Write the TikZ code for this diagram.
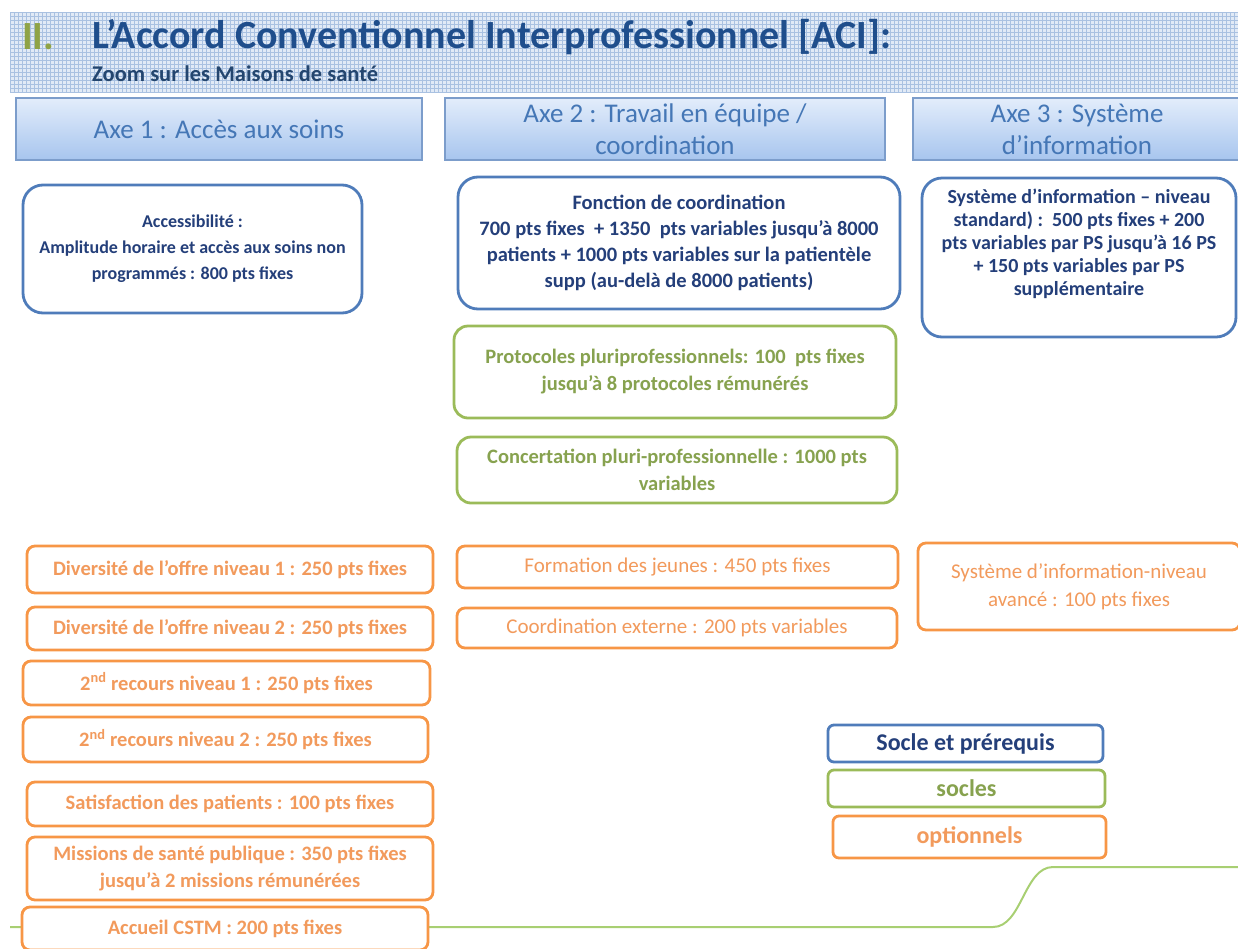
\documentclass[tikz,border=0pt]{standalone}
\usepackage{fontspec}
\setmainfont{Carlito}
\newcommand\fsz[2]{\fontsize{#1}{#2}\selectfont}
\definecolor{bandfill}{HTML}{E1EAF6}
\definecolor{bandgrid}{HTML}{A9C1E1}
\definecolor{titleblue}{HTML}{1F4E8C}
\definecolor{subblue}{HTML}{24466F}
\definecolor{olive}{HTML}{8FA346}
\definecolor{hdrtop}{HTML}{E3EDFB}
\definecolor{hdrbot}{HTML}{A7C5EE}
\definecolor{hdrline}{HTML}{7C9DCB}
\definecolor{hdrtext}{HTML}{4577B6}
\definecolor{bxblue}{HTML}{4F7CBA}
\definecolor{txblue}{HTML}{243F7A}
\definecolor{bxgreen}{HTML}{9BBB59}
\definecolor{txgreen}{HTML}{87A24F}
\definecolor{bxorange}{HTML}{F79646}
\definecolor{txorange}{HTML}{F29A5C}
\definecolor{linegreen}{HTML}{A8CF72}
\tikzset{
  hdr/.style={draw=hdrline, line width=1.2pt, top color=hdrtop, bottom color=hdrbot,
    text=hdrtext, font=\fsz{27}{32}, align=center, inner sep=0pt},
  card/.style={fill=white, line width=2.8pt, align=center, inner sep=0pt},
  bluecard/.style={card, draw=bxblue, rounded corners=20pt, text=txblue, font=\bfseries\fsz{20.5}{26}},
  greencard/.style={card, draw=bxgreen, rounded corners=14pt, text=txgreen, font=\bfseries\fsz{20.5}{27}},
  orangecard/.style={card, draw=bxorange, rounded corners=8pt, text=txorange, font=\bfseries\fsz{20.5}{27}},
  orangelite/.style={orangecard, font=\fsz{21}{28}},
  legendcard/.style={card, rounded corners=6pt, font=\bfseries\fsz{24}{28}},
}
\begin{document}
\begin{tikzpicture}[x=1pt,y=-1pt]
\useasboundingbox (0,0) rectangle (1238,948);

% title band with its fine grid
\fill[bandfill] (10,12) rectangle (1238,92);
\foreach \gx in {10,14,...,1238} \draw[bandgrid, line width=0.7pt] (\gx,12) -- (\gx,92);
\foreach \gy in {12,16,...,92} \draw[bandgrid, line width=0.7pt] (10,\gy) -- (1238,\gy);

\node[anchor=west, inner sep=0pt, text=olive, font=\bfseries\fsz{40}{44}] (roman) at (22,37) {II.};
\node[anchor=west, inner sep=0pt, text=titleblue, font=\bfseries\fsz{40}{44}] (title) at (92,37)
  {L’Accord Conventionnel Interprofessionnel [ACI]:};
\node[anchor=west, inner sep=0pt, text=subblue, font=\bfseries\fsz{22.5}{26}] (subtitle) at (92,74)
  {Zoom sur les Maisons de santé};

% column headers
\node[hdr, minimum width=406pt, minimum height=62pt] (axe1) at (219,129) {Axe 1 : Accès aux soins};
\node[hdr, minimum width=440pt, minimum height=62pt] (axe2) at (665,129) {Axe 2 : Travail en équipe /\\coordination};
\node[hdr, minimum width=328pt, minimum height=62pt] (axe3) at (1077,129) {Axe 3 : Système\\d’information};

% green baseline running along the bottom
\coordinate (gl0) at (10,927);
\coordinate (gl1) at (993,927);
\coordinate (gl2) at (1053,867);
\coordinate (gl3) at (1240,867);
\draw[linegreen, line width=2pt] (gl0) -- (gl1) .. controls (1022,927) and (1024,867) .. (gl2) -- (gl3);

% prerequisites (blue)
\node[bluecard, font=\bfseries\fsz{18}{26}, minimum width=339pt, minimum height=128pt] (acces) at (192.5,249)
  {Accessibilité :\\Amplitude horaire et accès aux soins non\\programmés : 800 pts fixes};
\node[bluecard, minimum width=442pt, minimum height=132pt] (fonction) at (679,243)
  {Fonction de coordination\\700 pts fixes~~+ 1350~~pts variables jusqu’à 8000\\patients + 1000 pts variables sur la patientèle\\supp (au-delà de 8000 patients)};
\node[bluecard, font=\bfseries\fsz{20}{23}, minimum width=314pt, minimum height=159pt] (sisstd) at (1079,257.5)
  {Système d’information – niveau\\standard) :~~500 pts fixes + 200\\pts variables par PS jusqu’à 16 PS\\+ 150 pts variables par PS\\supplémentaire\\[8pt]};

% core items (green)
\node[greencard, minimum width=442pt, minimum height=92pt] (protocoles) at (675,372)
  {Protocoles pluriprofessionnels: 100~~pts fixes\\jusqu’à 8 protocoles rémunérés};
\node[greencard, minimum width=440pt, minimum height=66pt] (concertation) at (677,470)
  {Concertation pluri-professionnelle : 1000 pts\\variables};

% optional items (orange)
\node[orangecard, minimum width=406pt, minimum height=47pt] (div1) at (230,569.5) {Diversité de l’offre niveau 1 : 250 pts fixes};
\node[orangecard, minimum width=406pt, minimum height=43pt] (div2) at (230,628.5) {Diversité de l’offre niveau 2 : 250 pts fixes};
\node[orangecard, minimum width=407pt, minimum height=44pt] (rec1) at (226.5,683) {2\textsuperscript{nd} recours niveau 1 : 250 pts fixes};
\node[orangecard, minimum width=405pt, minimum height=45pt] (rec2) at (225.5,739.5) {2\textsuperscript{nd} recours niveau 2 : 250 pts fixes};
\node[orangecard, minimum width=406pt, minimum height=44pt] (satis) at (230,804) {Satisfaction des patients : 100 pts fixes};
\node[orangecard, minimum width=406pt, minimum height=63pt] (missions) at (230,868.5) {Missions de santé publique : 350 pts fixes\\jusqu’à 2 missions rémunérées};
\node[orangecard, minimum width=406pt, minimum height=43pt] (cstm) at (225,928.5) {Accueil CSTM : 200 pts fixes};
\node[orangelite, minimum width=441pt, minimum height=42pt] (jeunes) at (677.5,567) {Formation des jeunes : 450 pts fixes};
\node[orangelite, minimum width=440pt, minimum height=40pt] (externe) at (677,628) {Coordination externe : 200 pts variables};
\node[orangelite, minimum width=322pt, minimum height=87pt] (sisav) at (1079,586.5) {Système d’information-niveau\\avancé : 100 pts fixes};

% legend
\node[legendcard, draw=bxblue, text=txblue, minimum width=275pt, minimum height=37pt] (legsocle) at (965.5,743.5) {Socle et prérequis};
\node[legendcard, draw=bxgreen, text=txgreen, minimum width=277pt, minimum height=37pt] (legsocles) at (966.5,788.5) {socles};
\node[legendcard, draw=bxorange, text=txorange, minimum width=273pt, minimum height=42pt] (legopt) at (969.5,837) {optionnels};
\end{tikzpicture}
\end{document}
